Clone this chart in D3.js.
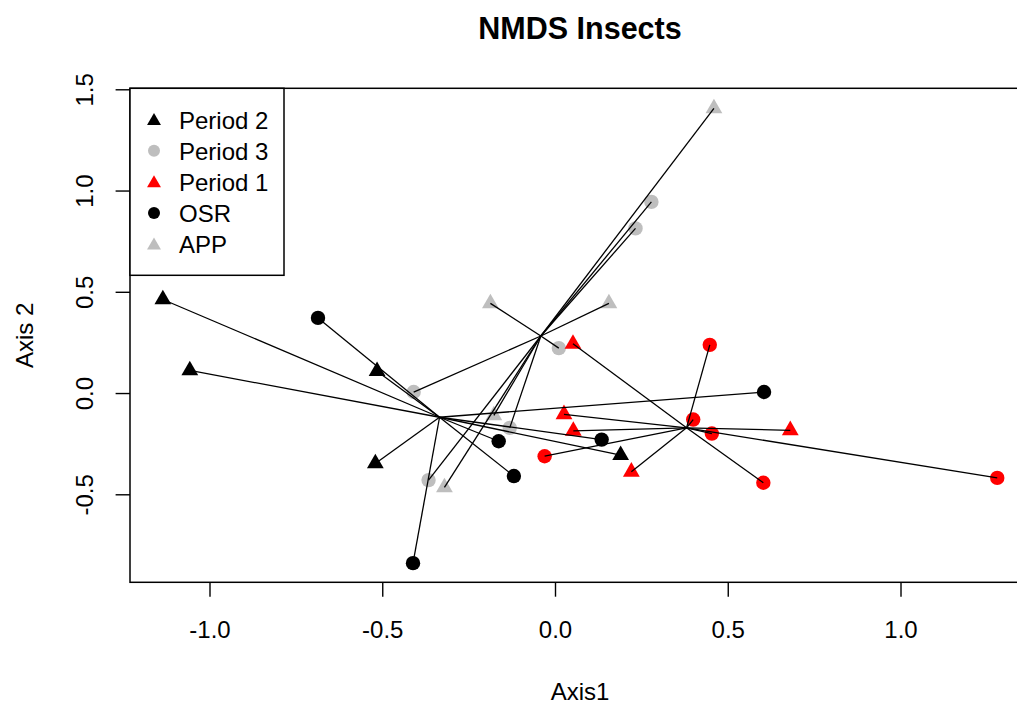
<!DOCTYPE html>
<html>
<head>
<meta charset="utf-8">
<script src="https://cdn.jsdelivr.net/npm/d3@7"></script>
<style>
  body { margin: 0; background: #fff; }
  svg { display: block; font-family: "Liberation Sans", Arial, sans-serif; }
</style>
</head>
<body>
<script>
// site scores (NMDS axis 1 / axis 2)
const period = ["Period 2","Period 2","Period 2","Period 2","Period 2","Period 2","Period 2","Period 2","Period 2","Period 2","Period 2",
                "Period 3","Period 3","Period 3","Period 3","Period 3","Period 3","Period 3","Period 3","Period 3","Period 3","Period 3",
                "Period 1","Period 1","Period 1","Period 1","Period 1","Period 1","Period 1","Period 1","Period 1","Period 1","Period 1"];
const crop = ["APP","APP","APP","APP","APP","OSR","OSR","OSR","OSR","OSR","OSR",
              "APP","APP","APP","APP","APP","OSR","OSR","OSR","OSR","OSR","OSR",
              "APP","APP","APP","APP","APP","OSR","OSR","OSR","OSR","OSR","OSR"];
const axis1 = [-1.135,-1.057,-0.515,-0.520,0.190,-0.686,-0.411,-0.163,-0.119,0.135,0.605,
               0.460,-0.187,0.156,-0.177,-0.320,0.279,0.233,0.011,-0.409,-0.131,-0.366,
               0.052,0.026,0.053,0.221,0.681,0.448,-0.030,0.400,0.454,0.603,1.280];
const axis2 = [0.462,0.112,0.108,-0.348,-0.307,0.371,-0.840,-0.238,-0.410,-0.230,0.005,
               1.406,0.443,0.443,-0.110,-0.466,0.944,0.813,0.222,0.005,-0.172,-0.430,
               0.243,-0.105,-0.187,-0.389,-0.184,0.238,-0.312,-0.131,-0.200,-0.443,-0.419];

const groups = ["Period 2","Period 3","Period 1"];
const groupColors = ["black","#bebebe","red"];
const crops = ["OSR","APP"];
const legendLabels = ["Period 2","Period 3","Period 1","OSR","APP"];
const legendColors = ["black","#bebebe","red","black","#bebebe"];
const legendShapes = ["APP","OSR","APP","OSR","APP"];
const xTicks = [-1.0,-0.5,0.0,0.5,1.0];
const yTicks = [-0.5,0.0,0.5,1.0,1.5];

const width = 1017, height = 704;
const mLeft = 130, mTop = 88.3, mRight = 1030, mBottom = 582.3;

const sites = period.map((p, i) => ({period: p, crop: crop[i], x: axis1[i], y: axis2[i]}));

const x = d3.scaleLinear().domain([-1.2301, 1.3748]).range([mLeft, mRight]);
const y = d3.scaleLinear().domain([-0.9346, 1.5049]).range([mBottom, mTop]);
const color = d3.scaleOrdinal().domain(groups).range(groupColors);
const shape = d3.scaleOrdinal().domain(crops).range([d3.symbolCircle, d3.symbolTriangle]);
const fmt = d => d.toFixed(1);   // plain hyphen like R

const svg = d3.select("body").append("svg")
    .attr("width", width)
    .attr("height", height);

// R style pch 19 / 17 sizes
const plotSym = c => d3.symbol().type(shape(c)).size(c === "OSR" ? Math.PI * 7.2 * 7.2 : 122)();
const legSym = c => d3.symbol().type(shape(c)).size(c === "OSR" ? Math.PI * 6 * 6 : 84)();

svg.append("g")
  .selectAll("path")
  .data(sites)
  .join("path")
    .attr("d", d => plotSym(d.crop))
    .attr("transform", d => `translate(${x(d.x)},${y(d.y)})`)
    .attr("fill", d => color(d.period));

// spider: centroid of each period to its sites
const centroids = new Map(groups.map(g => {
  const s = sites.filter(d => d.period === g);
  return [g, {x: d3.mean(s, d => d.x), y: d3.mean(s, d => d.y)}];
}));

svg.append("g")
  .selectAll("line")
  .data(sites)
  .join("line")
    .attr("x1", d => x(centroids.get(d.period).x))
    .attr("y1", d => y(centroids.get(d.period).y))
    .attr("x2", d => x(d.x))
    .attr("y2", d => y(d.y))
    .attr("stroke", "black")
    .attr("stroke-width", 1.3);

// box
svg.append("rect")
  .attr("x", mLeft).attr("y", mTop)
  .attr("width", mRight - mLeft).attr("height", mBottom - mTop)
  .attr("fill", "none").attr("stroke", "black").attr("stroke-width", 1.5);

const xAxis = d3.axisBottom(x).tickValues(xTicks).tickFormat(fmt).tickSize(14.4);
svg.append("g")
  .attr("transform", `translate(0,${mBottom})`)
  .call(xAxis)
  .call(g => g.select(".domain").remove())
  .call(g => g.selectAll("line").attr("stroke-width", 1.4))
  .call(g => g.selectAll("text").attr("font-size", 24).attr("font-family", "Liberation Sans, Arial, sans-serif").attr("fill", "black").attr("dy", null).attr("y", 55.4));

const yAxis = d3.axisLeft(y).tickValues(yTicks).tickFormat(fmt).tickSize(14.4);
svg.append("g")
  .attr("transform", `translate(${mLeft},0)`)
  .call(yAxis)
  .call(g => g.select(".domain").remove())
  .call(g => g.selectAll("line").attr("stroke-width", 1.4))
  .call(g => g.selectAll("text")
      .attr("font-size", 24).attr("font-family", "Liberation Sans, Arial, sans-serif").attr("fill", "black")
      .attr("x", null).attr("dy", null).attr("text-anchor", "middle")
      .attr("transform", "translate(-37,0) rotate(-90)"));

// titles
svg.append("text")
  .attr("x", (mLeft + mRight) / 2).attr("y", 39)
  .attr("text-anchor", "middle").attr("font-size", 30.5).attr("font-weight", "bold")
  .text("NMDS Insects");

svg.append("text")
  .attr("x", (mLeft + mRight) / 2).attr("y", 700)
  .attr("text-anchor", "middle").attr("font-size", 24)
  .text("Axis1");

svg.append("text")
  .attr("transform", `translate(33,${(mTop + mBottom) / 2}) rotate(-90)`)
  .attr("text-anchor", "middle").attr("font-size", 24)
  .text("Axis 2");

// legend
const legend = svg.append("g").attr("transform", `translate(${mLeft},${mTop})`);
legend.append("rect")
  .attr("width", 154).attr("height", 187)
  .attr("fill", "white").attr("stroke", "black").attr("stroke-width", 1.5);

const rows = legend.selectAll("g.row")
  .data(legendLabels)
  .join("g")
    .attr("class", "row")
    .attr("transform", (d, i) => `translate(0,${31.3 + i * 31.1})`);

rows.append("path")
  .attr("d", (d, i) => legSym(legendShapes[i]))
  .attr("transform", (d, i) => legendShapes[i] === "APP" ? "translate(24,1.5)" : "translate(24,0)")
  .attr("fill", (d, i) => legendColors[i]);

rows.append("text")
  .attr("x", 49).attr("y", 9)
  .attr("font-size", 24)
  .text(d => d);
</script>
</body>
</html>
